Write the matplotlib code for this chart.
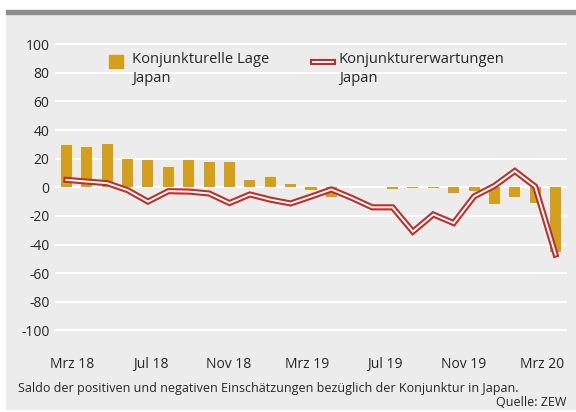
"""
ZEW Konjunktur Japan: Lage (bars) vs. Erwartungen (double line).
"""
import numpy as np
import matplotlib
matplotlib.use("Agg")
import matplotlib.pyplot as plt
from matplotlib.patches import Rectangle
from matplotlib.lines import Line2D

# --- data (Mrz 2018 .. Mrz 2020, monthly) ---
months = ["Mrz 18", "Apr 18", "Mai 18", "Jun 18", "Jul 18", "Aug 18", "Sep 18",
          "Okt 18", "Nov 18", "Dez 18", "Jan 19", "Feb 19", "Mrz 19", "Apr 19",
          "Mai 19", "Jun 19", "Jul 19", "Aug 19", "Sep 19", "Okt 19", "Nov 19",
          "Dez 19", "Jan 20", "Feb 20", "Mrz 20"]
lage = [29.5, 28.0, 30.0, 19.5, 18.8, 14.5, 18.8, 18.0, 17.4, 5.2, 7.4, 2.5,
        -2.0, -7.0, 0.0, 0.0, -1.0, -0.3, -0.8, -4.3, -2.5, -12.0, -7.0, -11.0,
        -45.0]
erwartungen = [5.2, 4.0, 2.9, -2.0, -10.0, -2.7, -3.0, -4.3, -11.0, -5.0, -8.6,
               -11.3, -6.5, -1.5, -7.4, -14.0, -14.0, -31.0, -19.0, -25.0,
               -6.4, 1.0, 11.4, 0.5, -47.0]
yticks = [100, 80, 60, 40, 20, 0, -20, -40, -60, -80, -100]
xtick_idx = [0, 4, 8, 12, 16, 20, 24]

label_lage = "Konjunkturelle Lage\nJapan"
label_erw = "Konjunkturerwartungen\nJapan"
note = "Saldo der positiven und negativen Einschätzungen bezüglich der Konjunktur in Japan."
source = "Quelle: ZEW"

GOLD = "#d4a01c"
RED = "#bf2f2a"
BG = "#ebeceb"
TXT = "#262626"

plt.rcParams["font.family"] = ["Open Sans", "DejaVu Sans"]

W, H = 576, 412
fig = plt.figure(figsize=(W / 100, H / 100), dpi=100)


def fx(px):
    return px / W


def fy(py):
    return 1 - py / H


# panel background + top rule
fig.add_artist(Rectangle((fx(6), fy(409)), fx(W - 6), fy(14) - fy(409),
                         transform=fig.transFigure, color=BG, zorder=-2))
fig.add_artist(Rectangle((fx(6), fy(14)), fx(W - 6), fy(10) - fy(14),
                         transform=fig.transFigure, color="#8d8d8d", zorder=-1))

ax = fig.add_axes([fx(55), fy(337.5), fx(567) - fx(55), fy(37.1) - fy(337.5)])
ax.set_facecolor("none")
x = np.arange(len(months))

ax.set_xlim(-0.56, len(months) - 1 + 0.56)
ax.set_ylim(-105, 105)
for y in yticks:
    ax.axhline(y, color="white", lw=1.5, zorder=0)

ax.bar(x, lage, width=0.54, color=GOLD, zorder=2)
ax.plot(x, erwartungen, color=RED, lw=4.4, zorder=3, solid_joinstyle="miter")
ax.plot(x, erwartungen, color="white", lw=1.4, zorder=4, solid_joinstyle="miter")

ax.set_yticks(yticks)
ax.set_yticklabels([str(v) for v in yticks])
# labels of the original sit on a slightly tighter spacing than the bars
ax.set_xticks([i * 0.959 + 0.3 for i in xtick_idx])
ax.set_xticklabels([months[i] for i in xtick_idx])
ax.tick_params(length=0, labelsize=10, colors=TXT)
ax.tick_params(axis="x", pad=14)
ax.tick_params(axis="y", pad=4)
for s in ax.spines.values():
    s.set_visible(False)

# legend drawn by hand
fig.add_artist(Rectangle((fx(109), fy(68)), fx(14), fy(55) - fy(68),
                         transform=fig.transFigure, color=GOLD))
fig.text(fx(132), fy(52), label_lage, fontsize=10.6, color=TXT, va="top",
         linespacing=1.35)
fig.add_artist(Line2D([fx(313), fx(333)], [fy(62), fy(62)],
                      transform=fig.transFigure, color=RED, lw=4.4))
fig.add_artist(Line2D([fx(313), fx(333)], [fy(62), fy(62)],
                      transform=fig.transFigure, color="white", lw=1.4))
fig.text(fx(339), fy(52), label_erw, fontsize=10.6, color=TXT, va="top",
         linespacing=1.35)

fig.text(fx(18), fy(392), note, fontsize=9.0, color=TXT, va="baseline")
fig.text(fx(566), fy(406), source, fontsize=9.0, color=TXT, va="baseline",
         ha="right")

fig.savefig("out.png", dpi=100)
